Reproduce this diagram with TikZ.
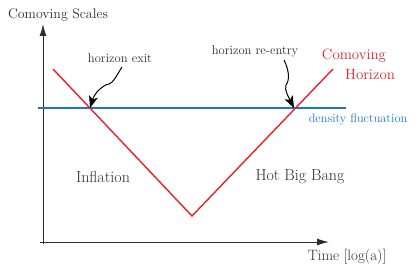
\documentclass[tikz,border=0pt]{standalone}
\usetikzlibrary{arrows.meta}
\definecolor{hred}{RGB}{232,32,42}
\definecolor{fblue}{RGB}{28,118,196}
\definecolor{txt}{RGB}{45,45,45}
\begin{document}
\begin{tikzpicture}[x=1pt,y=-1pt,
  axis/.style={line width=1pt,draw=txt,-{Latex[length=12pt,width=7pt]}},
  wig/.style={line width=1pt,draw=black,-{Stealth[length=12pt,width=9pt,inset=3pt]}},
  lbl/.style={text=txt,inner sep=0pt},
]
\useasboundingbox (0,0) rectangle (415,270);
% axes
\coordinate (o) at (43,244);
\coordinate (ytop) at (43,24);
\coordinate (xl) at (40,242);
\coordinate (xr) at (329,242);
\draw[axis] (o) -- (ytop);
\draw[axis] (xl) -- (xr);
% density fluctuation line
\coordinate (bl) at (38,108);
\coordinate (br) at (346,108);
\draw[fblue,line width=1.4pt] (bl) -- (br);
% comoving horizon
\coordinate (h1) at (53,69);
\coordinate (hm) at (192,216);
\coordinate (h2) at (333,69);
\draw[hred,line width=1.4pt] (h1) -- (hm) -- (h2);
% crossings
\coordinate (cx1) at (90,108);
\coordinate (cx2) at (294,108);
% labels
\node[lbl,font=\fontsize{13.9}{15}\selectfont] (cs) at (58,15) {Comoving Scales};
\node[lbl,font=\fontsize{12.6}{14}\selectfont] (he) at (120,58) {horizon exit};
\node[lbl,font=\fontsize{12.6}{14}\selectfont] (hr) at (255,51) {horizon re-entry};
\node[inner sep=0pt,text=hred,font=\fontsize{14.9}{16}\selectfont] (ch1) at (354,56) {Comoving};
\node[inner sep=0pt,text=hred,font=\fontsize{14.9}{16}\selectfont] (ch2) at (370,74) {Horizon};
\node[inner sep=0pt,text=fblue,font=\fontsize{12.3}{14}\selectfont] (df) at (358,119) {density fluctuation};
\node[lbl,font=\fontsize{16}{18}\selectfont] (inf) at (103,177) {Inflation};
\node[lbl,font=\fontsize{16}{18}\selectfont] (hbb) at (300,177) {Hot Big Bang};
\node[lbl,font=\fontsize{15}{16}\selectfont] (tm) at (347,257) {Time [log(a)]};
% wiggly arrows
\coordinate (a1) at (122,67);
\coordinate (a2) at (284,60);
\draw[wig] (a1) .. controls (117,75) and (113,83) .. (109,84)
  .. controls (104,85) and (103,87) .. (100,89)
  .. controls (96,92) and (93,98) .. (cx1);
\draw[wig] (a2) .. controls (289,70) and (290,80) .. (286,85)
  .. controls (284,90) and (289,98) .. (cx2);
\end{tikzpicture}
\end{document}
